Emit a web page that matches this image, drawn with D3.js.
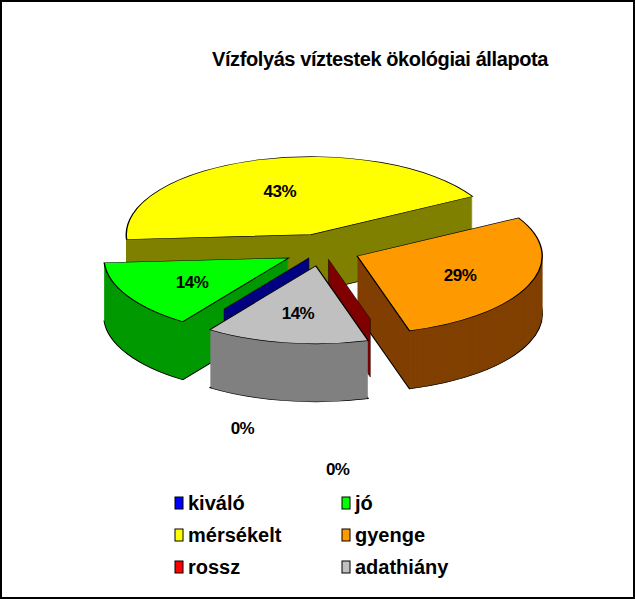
<!DOCTYPE html><html><head><meta charset="utf-8">
<script src="https://cdn.jsdelivr.net/npm/d3@7"></script>
<style>body{margin:0;background:#fff}svg{display:block}</style></head><body>
<script>
const categories=["kiváló","jó","mérsékelt","gyenge","rossz","adathiány"];
const values=[0,1,3,2,0,1];
const labels=["0%","14%","43%","29%","0%","14%"];
const topColors=["#0000ff","#00ff00","#ffff00","#ff9900","#ff0000","#c0c0c0"];
const sideColors=["#000080","#009900","#808000","#804000","#800000","#808080"];
const W=635,H=599,cx=322,cy=250,rx=185,ry=78,depth=58,ex=38,start=215*Math.PI/180;
const svg=d3.select("body").append("svg").attr("width",W).attr("height",H);
svg.append("rect").attr("x",1).attr("y",1).attr("width",W-2).attr("height",H-2).attr("fill","#fff").attr("stroke","#000").attr("stroke-width",2);
svg.append("text").attr("x",380).attr("y",66).attr("text-anchor","middle").attr("font-family","Liberation Sans, Arial").attr("font-weight","bold").attr("font-size",20).attr("letter-spacing",-0.4).text("Vízfolyás  víztestek ökológiai állapota");
const pie=d3.pie().sort(null).startAngle(start).endAngle(start+2*Math.PI)(values);
const k=ry/rx;
const arc=d3.arc().innerRadius(0).outerRadius(rx);
const slices=pie.map((p,i)=>{const m=(p.startAngle+p.endAngle)/2;return {p,i,m,dx:Math.sin(m)*ex,dy:-Math.cos(m)*ex*k};});
const order=slices.slice().sort((a,b)=>(-Math.cos(a.m))-(-Math.cos(b.m)));
const g=svg.append("g");
order.forEach(s=>{
  const {p,i,dx,dy}=s;
  if(p.value===0){
    const a=p.startAngle, x2=Math.sin(a)*rx*0.8, y2=-Math.cos(a)*ry*0.8;
    const x0=cx+dx*0.6,y0=cy+dy*0.6;
    g.append("path").attr("d",`M${x0},${y0}L${x0+x2},${y0+y2}L${x0+x2},${y0+y2+depth}L${x0},${y0+depth}Z`).attr("fill",sideColors[i]).attr("stroke","#000").attr("stroke-width",0.5);
    return;
  }
  for(let d=depth;d>0;d-=1){
    g.append("path").attr("d",arc(p)).attr("transform",`translate(${cx+dx},${cy+dy+d}) scale(1,${k})`).attr("fill",sideColors[i]).attr("stroke",d===depth?"#000":"none").attr("stroke-width",0.6/k);
  }
  g.append("path").attr("d",arc(p)).attr("transform",`translate(${cx+dx},${cy+dy}) scale(1,${k})`).attr("fill",topColors[i]).attr("stroke","#000").attr("stroke-width",0.6/k);
});
slices.forEach(s=>{
  const {p,i,m,dx,dy}=s;let x,y;
  if(p.value>0){const r=rx*0.6;x=cx+dx+Math.sin(m)*r;y=cy+dy-Math.cos(m)*r*k;}
  else{x=cx+Math.sin(m)*rx*(i===0?0.75:0.3);y=cy-Math.cos(m)*ry+depth+(i===0?55:85);}
  svg.append("text").attr("x",x).attr("y",y+7).attr("text-anchor","middle").attr("font-family","Liberation Sans, Arial").attr("font-weight","bold").attr("font-size",17).attr("letter-spacing",-0.5).text(labels[i]);
});
const leg=svg.append("g");
categories.forEach((c,i)=>{
  const col=i%2,row=Math.floor(i/2);const x=175+col*167,y=503+row*32;
  leg.append("rect").attr("x",x).attr("y",y-6).attr("width",8).attr("height",12).attr("fill",topColors[i]).attr("stroke","#000").attr("stroke-width",1);
  leg.append("text").attr("x",x+13).attr("y",y+7).attr("font-family","Liberation Sans, Arial").attr("font-weight","bold").attr("font-size",20).text(c);
});
</script></body></html>
